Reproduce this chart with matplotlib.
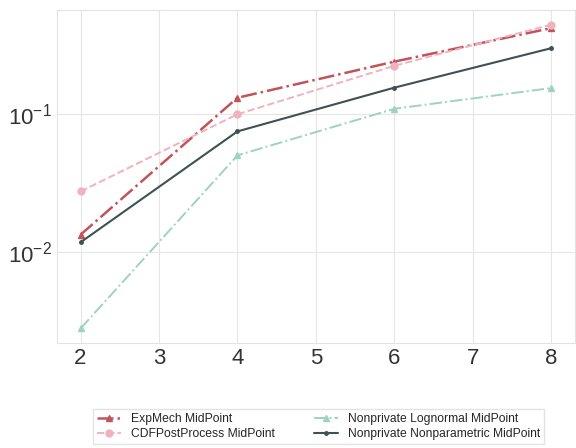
import matplotlib
matplotlib.use("Agg")
import matplotlib.pyplot as plt
import seaborn as sns

sns.set_style("whitegrid")
plt.rcParams['font.family'] = ['Liberation Sans', 'DejaVu Sans']

x = [2, 4, 6, 8]
expmech = [0.0134, 0.131, 0.239, 0.418]
cdfpost = [0.0275, 0.0995, 0.223, 0.443]
lognormal = [0.00281, 0.0502, 0.109, 0.154]
nonparam = [0.0118, 0.0748, 0.155, 0.299]

fig = plt.figure(figsize=(5.76, 4.48), dpi=100)
ax = fig.add_axes([0.099, 0.234, 0.899, 0.744])

ax.plot(x, expmech, color='#c0545a', linestyle='-.', marker='^', markersize=5,
        linewidth=1.8, label='ExpMech MidPoint')
ax.plot(x, cdfpost, color='#efb3c0', linestyle='--', marker='o', markersize=5,
        linewidth=1.4, label='CDFPostProcess MidPoint')
ax.plot(x, lognormal, color='#9ed3c0', linestyle='-.', marker='^', markersize=4,
        linewidth=1.4, label='Nonprivate Lognormal MidPoint')
ax.plot(x, nonparam, color='#3e5254', linestyle='-', marker='o', markersize=2.5,
        linewidth=1.5, label='Nonprivate Nonparametric MidPoint')

ax.set_yscale('log')
ax.set_xticks([2, 3, 4, 5, 6, 7, 8])
ax.tick_params(axis='both', labelsize=16, length=0, labelcolor='#333333')
ax.minorticks_off()
ax.set_ylim(0.0022, 0.566)
for s in ax.spines.values():
    s.set_color('#e3e3e3')
ax.grid(color='#e6e6e6')

fig.legend(loc='center', bbox_to_anchor=(0.553, 0.048), ncol=2, fontsize=8.7,
           frameon=True, edgecolor='#dddddd', fancybox=False,
           handlelength=2.0, columnspacing=3.2, borderpad=0.35, labelspacing=0.25)

fig.savefig('out.png', dpi=100)
